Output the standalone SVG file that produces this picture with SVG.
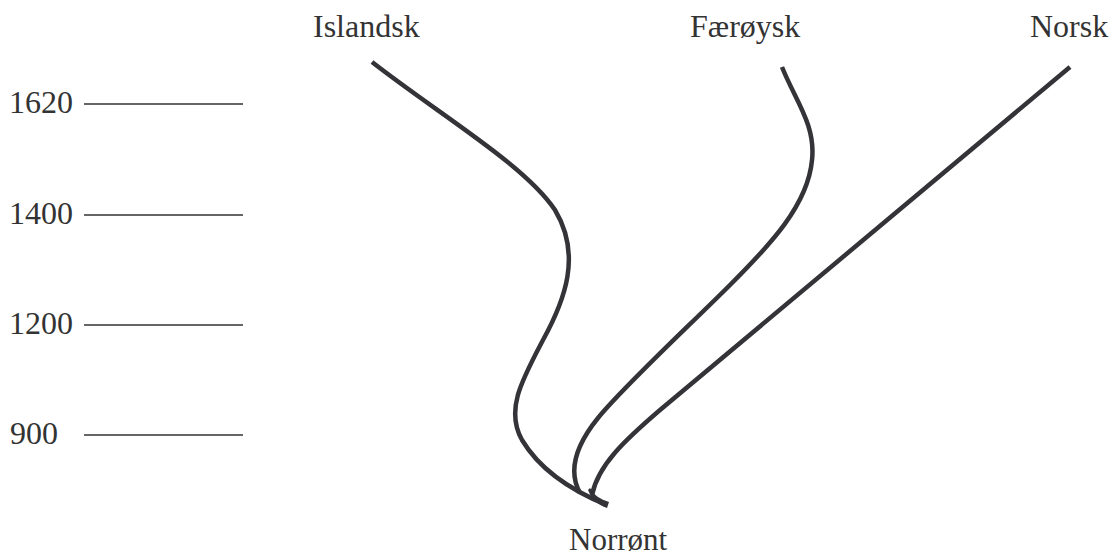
<svg xmlns="http://www.w3.org/2000/svg" width="1112" height="556" viewBox="0 0 1112 556">
<style>
text{font-family:"Liberation Serif","Times New Roman",serif;font-size:32px;fill:#333}
.tick{stroke:#333;stroke-width:1.5;fill:none}
.branch{stroke:#333338;stroke-width:4.5;fill:none;stroke-linecap:butt}
</style>
<rect width="1112" height="556" fill="#fff"/>
<g id="axis">
<text x="9" y="113">1620</text><line class="tick" x1="84" y1="104" x2="243" y2="104"/>
<text x="9" y="224">1400</text><line class="tick" x1="84" y1="215" x2="243" y2="215"/>
<text x="9" y="334">1200</text><line class="tick" x1="84" y1="325" x2="243" y2="325"/>
<text x="10" y="444">900</text><line class="tick" x1="84" y1="435" x2="243" y2="435"/>
</g>
<g id="islandsk"><text x="313" y="37">Islandsk</text></g>
<g id="faroysk"><text x="690" y="37">Færøysk</text></g>
<g id="norsk"><text x="1030" y="37">Norsk</text></g>
<g id="norront"><text x="569" y="550" style="font-size:31px">Norrønt</text></g>
<g id="connectors">
<path class="branch" d="M372,62 C440,115 525,165 555,210 C582,255 565,300 543,340 C522,380 505,410 522,440 C540,470 570,490 607,505"/>
<path class="branch" d="M782,67 C795,100 816,125 812,160 C808,205 770,245 730,285 C690,325 625,385 598,418 C572,450 570,475 580,493"/>
<path class="branch" d="M1070,67 L660,410 C625,440 598,465 592,495"/>
<path d="M588,490 C592,500 598,505 607,508 L609,502 C600,499 595,496 590,488 Z" fill="#333338"/>
</g>
</svg>
